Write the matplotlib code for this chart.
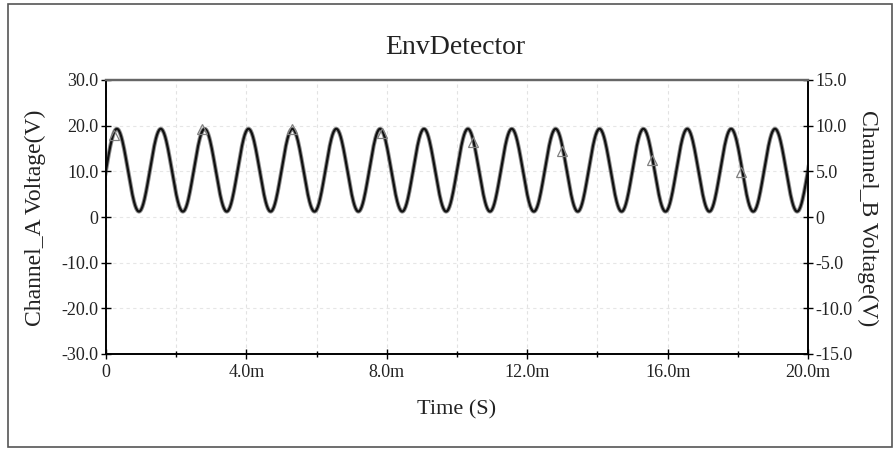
import numpy as np
import matplotlib
matplotlib.use("Agg")
import matplotlib.pyplot as plt
from matplotlib.patches import Rectangle
from matplotlib.ticker import FixedLocator, FuncFormatter

# Channel A: extremes of the detector waveform (time in ms, volts)
peak_times_ms = [0.31, 1.56, 2.81, 4.06, 5.31, 6.56, 7.81, 9.06, 10.31,
                 11.56, 12.81, 14.06, 15.31, 16.56, 17.81, 19.06, 20.31]
peak_values = [19.3, 19.3, 19.3, 19.3, 19.3, 19.3, 19.3, 19.3, 19.3,
               19.3, 19.3, 19.3, 19.3, 19.3, 19.3, 19.3, 19.3]
trough_times_ms = [-0.31, 0.94, 2.19, 3.44, 4.69, 5.94, 7.19, 8.44, 9.69,
                   10.94, 12.19, 13.44, 14.69, 15.94, 17.19, 18.44, 19.69]
trough_values = [1.2, 1.2, 1.2, 1.2, 1.2, 1.2, 1.2, 1.2, 1.2,
                 1.2, 1.2, 1.2, 1.2, 1.2, 1.2, 1.2, 1.2]

# Channel B: marker points (time in ms, volts on right axis)
marker_times_ms = [0.22, 2.74, 5.30, 7.86, 10.46, 12.99, 15.56, 18.10]
marker_values = [9.0, 9.6, 9.6, 9.2, 8.2, 7.2, 6.2, 4.9]

# Axis ticks
x_major = [0, 4, 8, 12, 16, 20]
x_minor = [2, 6, 10, 14, 18]
y_left_ticks = [-30, -20, -10, 0, 10, 20, 30]
y_right_ticks = [-15, -10, -5, 0, 5, 10, 15]

SERIF = ["Liberation Serif", "DejaVu Serif"]
plt.rcParams["font.family"] = SERIF

# build the trace: smooth half-cosine swing between successive extremes
ext_t = np.array(peak_times_ms + trough_times_ms)
ext_v = np.array(peak_values + trough_values)
order = np.argsort(ext_t)
ext_t, ext_v = ext_t[order], ext_v[order]
tt, vv = [], []
for i in range(len(ext_t) - 1):
    s = np.linspace(0, 1, 40, endpoint=False)
    tt.append(ext_t[i] + (ext_t[i + 1] - ext_t[i]) * s)
    vv.append(ext_v[i] + (ext_v[i + 1] - ext_v[i]) * (1 - np.cos(np.pi * s)) / 2)
tt.append([ext_t[-1]])
vv.append([ext_v[-1]])
t_trace = np.concatenate(tt)
v_trace = np.concatenate(vv)

fig = plt.figure(figsize=(8.95, 4.49), dpi=100)
fig.patch.set_facecolor("white")
fig.patches.append(Rectangle((8 / 895, 2 / 449), 884 / 895, 443 / 449,
                             transform=fig.transFigure, fill=False,
                             edgecolor="#555555", linewidth=1.2))

ax = fig.add_axes([106 / 895, 1 - 354 / 449, 702 / 895, 274 / 449])
ax2 = ax.twinx()

ax.set_xlim(0, 20)
ax.set_ylim(-30, 30)
ax2.set_ylim(-15, 15)

# grid
for gx in x_major + x_minor:
    ax.axvline(gx, color="#e2e2e2", lw=0.8, ls=(0, (3, 3)), zorder=0)
for gy in y_left_ticks[1:-1]:
    ax.axhline(gy, color="#e6e6e6", lw=0.8, ls=(0, (3, 3)), zorder=0)

ax.plot(t_trace, v_trace, color="#333333", lw=3.0, alpha=0.55, zorder=3)
ax.plot(t_trace, v_trace, color="#111111", lw=1.6, zorder=3)
ax2.plot(marker_times_ms, marker_values, ls="none", marker="^",
         markersize=6.5, markerfacecolor="none", markeredgecolor="#808080",
         markeredgewidth=0.9, zorder=4)

def fmt_x(v, pos):
    return "0" if abs(v) < 1e-9 else f"{v:.1f}m"

def fmt_y(v, pos):
    return "0" if abs(v) < 1e-9 else f"{v:.1f}"

ax.xaxis.set_major_locator(FixedLocator(x_major))
ax.xaxis.set_minor_locator(FixedLocator(x_minor))
ax.xaxis.set_major_formatter(FuncFormatter(fmt_x))
ax.yaxis.set_major_locator(FixedLocator(y_left_ticks))
ax.yaxis.set_major_formatter(FuncFormatter(fmt_y))
ax2.yaxis.set_major_locator(FixedLocator(y_right_ticks))
ax2.yaxis.set_major_formatter(FuncFormatter(fmt_y))

ax.tick_params(axis="both", which="major", direction="inout", length=7,
               width=1.0, labelsize=13, colors="black")
ax.tick_params(axis="x", which="minor", direction="inout", length=5, width=1.0)
ax.tick_params(axis="x", which="major", pad=4)
ax.tick_params(axis="y", which="major", pad=2)
ax2.tick_params(axis="y", which="major", direction="inout", length=7,
                width=1.0, labelsize=13, pad=2)

for a in (ax, ax2):
    for side in ("left", "right", "bottom"):
        a.spines[side].set_color("black")
        a.spines[side].set_linewidth(1.2)
    a.spines["top"].set_color("#666666")
    a.spines["top"].set_linewidth(1.6)

for lbl in ax.get_xticklabels() + ax.get_yticklabels() + ax2.get_yticklabels():
    lbl.set_color("#222222")

fig.text(455 / 895, 1 - 47 / 449, "EnvDetector", ha="center", va="center",
         fontsize=20, color="#222222")
fig.text(457 / 895, 1 - 410 / 449, "Time (S)", ha="center", va="center",
         fontsize=16, color="#222222")
fig.text(35 / 895, 1 - 218 / 449, "Channel_A Voltage(V)", ha="center",
         va="center", rotation=90, fontsize=17, color="#222222")
fig.text(868 / 895, 1 - 218 / 449, "Channel_B Voltage(V)", ha="center",
         va="center", rotation=-90, fontsize=17, color="#222222")

fig.savefig("out.png", dpi=100)
